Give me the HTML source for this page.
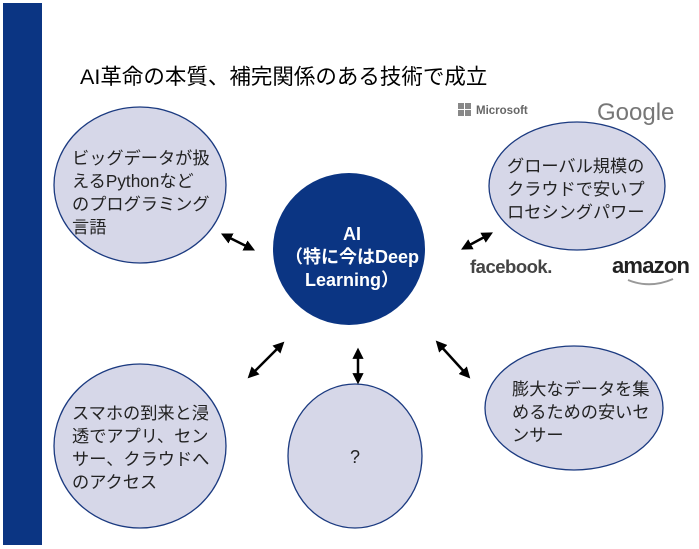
<!DOCTYPE html>
<html><head><meta charset="utf-8"><style>
html,body{margin:0;padding:0;background:#fff;}
svg{display:block;}
text{font-family:"Liberation Sans","Noto Sans CJK JP",sans-serif;}
</style></head><body>
<svg width="699" height="549" viewBox="0 0 699 549" xmlns="http://www.w3.org/2000/svg">
<defs>
<marker id="ah" viewBox="0 0 10 10" refX="7" refY="5" markerWidth="4.5" markerHeight="4.5" orient="auto-start-reverse"><path d="M0,0 L10,5 L0,10 z" fill="#000"/></marker>
</defs>
<rect x="3" y="3" width="39" height="542" fill="#0b3583"/>
<text x="80" y="84" font-size="21.5" fill="#000">AI革命の本質、補完関係のある技術で成立</text>

<g fill="#d6d7e8" stroke="#1b3a80" stroke-width="1.3">
<ellipse cx="140" cy="185" rx="86" ry="78"/>
<ellipse cx="577" cy="186" rx="88" ry="64"/>
<ellipse cx="140" cy="446" rx="86" ry="82"/>
<ellipse cx="355" cy="456" rx="67" ry="72"/>
<ellipse cx="574" cy="408" rx="89" ry="62"/>
</g>
<circle cx="349" cy="249" r="76" fill="#0b3583"/>
<g fill="#fff" font-size="18" font-weight="bold" text-anchor="middle">
<text x="352" y="240">AI</text>
<text x="352" y="263">（特に今はDeep</text>
<text x="352" y="286">Learning）</text>
</g>

<g font-size="17.2" fill="#222">
<text x="72" y="164">ビッグデータが扱</text>
<text x="72" y="187">えるPythonなど</text>
<text x="72" y="210">のプログラミング</text>
<text x="72" y="233">言語</text>
<text x="507" y="172">グローバル規模の</text>
<text x="507" y="195">クラウドで安いプ</text>
<text x="507" y="218">ロセシングパワー</text>
<text x="72" y="419">スマホの到来と浸</text>
<text x="72" y="442">透でアプリ、セン</text>
<text x="72" y="465">サー、クラウドへ</text>
<text x="72" y="488">のアクセス</text>
<text x="512" y="395">膨大なデータを集</text>
<text x="512" y="418">めるための安いセ</text>
<text x="512" y="441">ンサー</text>
<text x="350" y="463" font-size="18">?</text>
</g>

<g stroke="#000" stroke-width="2.5" marker-start="url(#ah)" marker-end="url(#ah)">
<line x1="224" y1="235" x2="252" y2="249"/>
<line x1="464" y1="248" x2="490" y2="234"/>
<line x1="250" y1="376" x2="282" y2="344"/>
<line x1="358" y1="351" x2="358" y2="381"/>
<line x1="438" y1="343" x2="468" y2="376"/>
</g>

<g>
<rect x="458" y="103" width="6" height="6" fill="#888"/><rect x="465" y="103" width="6" height="6" fill="#888"/>
<rect x="458" y="110" width="6" height="6" fill="#888"/><rect x="465" y="110" width="6" height="6" fill="#888"/>
<text x="476" y="114" font-size="11.5" fill="#666" font-weight="bold">Microsoft</text>
<text x="597" y="120" font-size="24" fill="#777">Google</text>
<text x="470" y="273" font-size="18.5" fill="#444" font-weight="bold" letter-spacing="-0.5">facebook.</text>
<text x="612" y="273" font-size="22" fill="#222" font-weight="bold" letter-spacing="-0.8">amazon</text>
<path d="M628,280 Q650,289 673,279" stroke="#999" stroke-width="2" fill="none"/>
</g>
</svg>
</body></html>
